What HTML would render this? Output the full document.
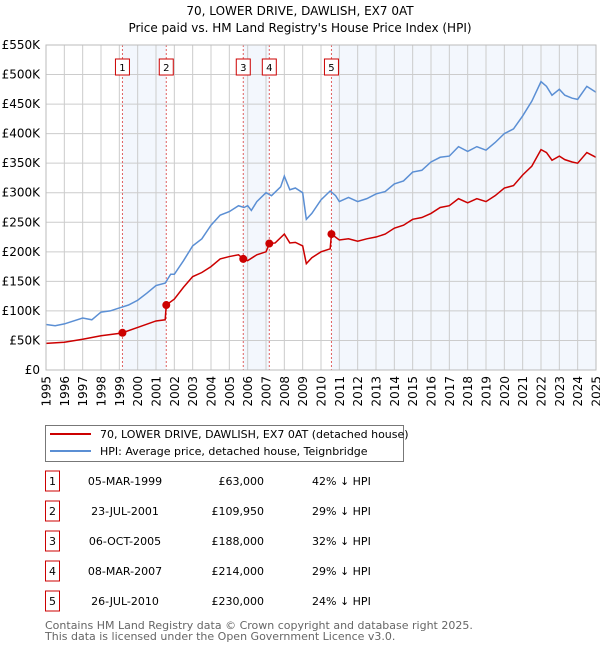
<!DOCTYPE html>
<html><head><meta charset="utf-8"><style>
body{margin:0;background:#fff;font-family:"Liberation Sans","DejaVu Sans",sans-serif;}
svg text{font-family:"DejaVu Sans","Liberation Sans",sans-serif;}
</style></head><body>
<svg id="c" width="600" height="650" xmlns="http://www.w3.org/2000/svg">
<text x="300" y="15" text-anchor="middle" font-size="12" fill="#000">70, LOWER DRIVE, DAWLISH, EX7 0AT</text>
<text x="300" y="32" text-anchor="middle" font-size="12" fill="#000">Price paid vs. HM Land Registry's House Price Index (HPI)</text>
<g id="plot"></g>
<g>
<rect x="45.5" y="425.5" width="358" height="36" fill="#fff" stroke="#777"/>
<line x1="50" y1="434" x2="91" y2="434" stroke="#cc0000" stroke-width="2"/>
<text x="100" y="438" font-size="11">70, LOWER DRIVE, DAWLISH, EX7 0AT (detached house)</text>
<line x1="50" y1="451" x2="91" y2="451" stroke="#5b8fd4" stroke-width="2"/>
<text x="100" y="455" font-size="11">HPI: Average price, detached house, Teignbridge</text>
</g>
<g id="table" font-size="11"></g>
<text x="45" y="629" font-size="11" fill="#666">Contains HM Land Registry data © Crown copyright and database right 2025.</text>
<text x="45" y="640" font-size="11" fill="#666">This data is licensed under the Open Government Licence v3.0.</text>
</svg>
<script>
const hpiYears=[1995,1995.5,1996,1997,1997.5,1998,1998.5,1999,1999.5,2000,2000.5,2001,2001.5,2001.8,2002,2002.5,2003,2003.5,2004,2004.5,2005,2005.5,2005.8,2006,2006.2,2006.5,2007,2007.3,2007.8,2008,2008.3,2008.6,2009,2009.2,2009.5,2010,2010.5,2010.8,2011,2011.5,2012,2012.5,2013,2013.5,2014,2014.5,2015,2015.5,2016,2016.5,2017,2017.5,2018,2018.5,2019,2019.5,2020,2020.5,2021,2021.5,2022,2022.3,2022.6,2023,2023.3,2023.7,2024,2024.5,2025];
const hpiValues=[77,75,78,88,85,98,100,105,110,118,130,143,147,162,162,185,210,222,245,262,268,278,275,278,270,285,300,295,310,328,305,308,300,255,265,288,303,295,285,292,285,290,298,302,315,320,335,338,352,360,362,378,370,378,372,385,400,408,430,455,488,480,465,475,465,460,458,480,470];
const ppYears=[1995,1996,1997,1998,1999,1999.17,2000,2001,2001.5,2001.56,2002,2002.5,2003,2003.5,2004,2004.5,2005,2005.5,2005.77,2006,2006.5,2007,2007.19,2007.5,2008,2008.3,2008.6,2009,2009.2,2009.5,2010,2010.5,2010.57,2011,2011.5,2012,2012.5,2013,2013.5,2014,2014.5,2015,2015.5,2016,2016.5,2017,2017.5,2018,2018.5,2019,2019.5,2020,2020.5,2021,2021.5,2022,2022.3,2022.6,2023,2023.3,2023.7,2024,2024.5,2025];
const ppValues=[45,47,52,58,62,63,72,83,85,110,120,140,158,165,175,188,192,195,188,185,195,200,214,215,230,215,216,210,180,190,200,205,230,220,222,218,222,225,230,240,245,255,258,265,275,278,290,283,290,285,295,308,312,330,345,373,368,355,362,356,352,350,368,360];
const saleLabels=["1","2","3","4","5"];
const saleYears=[1999.17,2001.56,2005.76,2007.18,2010.57];
const saleValues=[63,109.95,188,214,230];
const saleDates=["05-MAR-1999","23-JUL-2001","06-OCT-2005","08-MAR-2007","26-JUL-2010"];
const salePrices=["£63,000","£109,950","£188,000","£214,000","£230,000"];
const saleDiffs=["42% ↓ HPI","29% ↓ HPI","32% ↓ HPI","29% ↓ HPI","24% ↓ HPI"];
const yTicks=[0,50,100,150,200,250,300,350,400,450,500,550];
const xTicks=[1995,1996,1997,1998,1999,2000,2001,2002,2003,2004,2005,2006,2007,2008,2009,2010,2011,2012,2013,2014,2015,2016,2017,2018,2019,2020,2021,2022,2023,2024,2025];

const L=46,R=596,T=45,B=370,NS="http://www.w3.org/2000/svg";
const X=y=>L+(y-1995)/30*(R-L);
const Y=v=>B-v/550*(B-T);
const g=document.getElementById('plot');
function mk(t,a,p){const e=document.createElementNS(NS,t);for(const k in a)e.setAttribute(k,a[k]);(p||g).appendChild(e);return e;}
const shadeSpans=[[0,1],[2,3],[4,null]];
shadeSpans.forEach(s=>{const x1=X(saleYears[s[0]]),x2=s[1]===null?R:X(saleYears[s[1]]);
const r=mk('rect',{x:x1,y:T,width:x2-x1,height:B-T,fill:'#eef3fc',opacity:0.7});

});
xTicks.forEach(t=>{const l=mk('line',{x1:X(t),x2:X(t),y1:T,y2:B,stroke:'#cccccc'});

const tx=mk('text',{x:0,y:0,'text-anchor':'end','font-size':12,transform:'translate('+(X(t)+4.5)+','+(B+6)+') rotate(-90)'});tx.textContent=t;
});
yTicks.forEach(t=>{const l=mk('line',{x1:L,x2:R,y1:Y(t),y2:Y(t),stroke:'#cccccc'});

const tx=mk('text',{x:L-6,y:Y(t)+4,'text-anchor':'end','font-size':12});tx.textContent=t===0?'£0':'£'+t+'K';
});
saleYears.forEach((s,i)=>{const l=mk('line',{x1:X(s),x2:X(s),y1:T,y2:B,stroke:'#e06060','stroke-dasharray':'2,2'});

const bx=mk('rect',{x:X(s)-7,y:59,width:14,height:16,fill:'#fff',stroke:'#cc0000'});

const tx=mk('text',{x:X(s),y:71,'text-anchor':'middle','font-size':10});tx.textContent=saleLabels[i];
});
const hp=mk('polyline',{points:hpiYears.map((y,i)=>X(y)+','+Y(hpiValues[i])).join(' '),fill:'none',stroke:'#5b8fd4','stroke-width':1.5});

const pp=mk('polyline',{points:ppYears.map((y,i)=>X(y)+','+Y(ppValues[i])).join(' '),fill:'none',stroke:'#cc0000','stroke-width':1.5});

saleYears.forEach((s,i)=>{const c=mk('circle',{cx:X(s),cy:Y(saleValues[i]),r:4,fill:'#cc0000'});
});
mk('rect',{x:L,y:T,width:R-L,height:B-T,fill:'none',stroke:'#bbb'});
const tb=document.getElementById('table');
saleLabels.forEach((lab,i)=>{const y=483+i*30;
const b=mk('rect',{x:45.5,y:y-12,width:14,height:20,fill:'#fff',stroke:'#cc0000'},tb);

const n=mk('text',{x:52.5,y:y+2,'text-anchor':'middle'},tb);n.textContent=lab;

const d=mk('text',{x:125,y:y+2,'text-anchor':'middle'},tb);d.textContent=saleDates[i];

const p=mk('text',{x:264,y:y+2,'text-anchor':'end'},tb);p.textContent=salePrices[i];

const h=mk('text',{x:312,y:y+2},tb);h.textContent=saleDiffs[i];
});
</script>
</body></html>
